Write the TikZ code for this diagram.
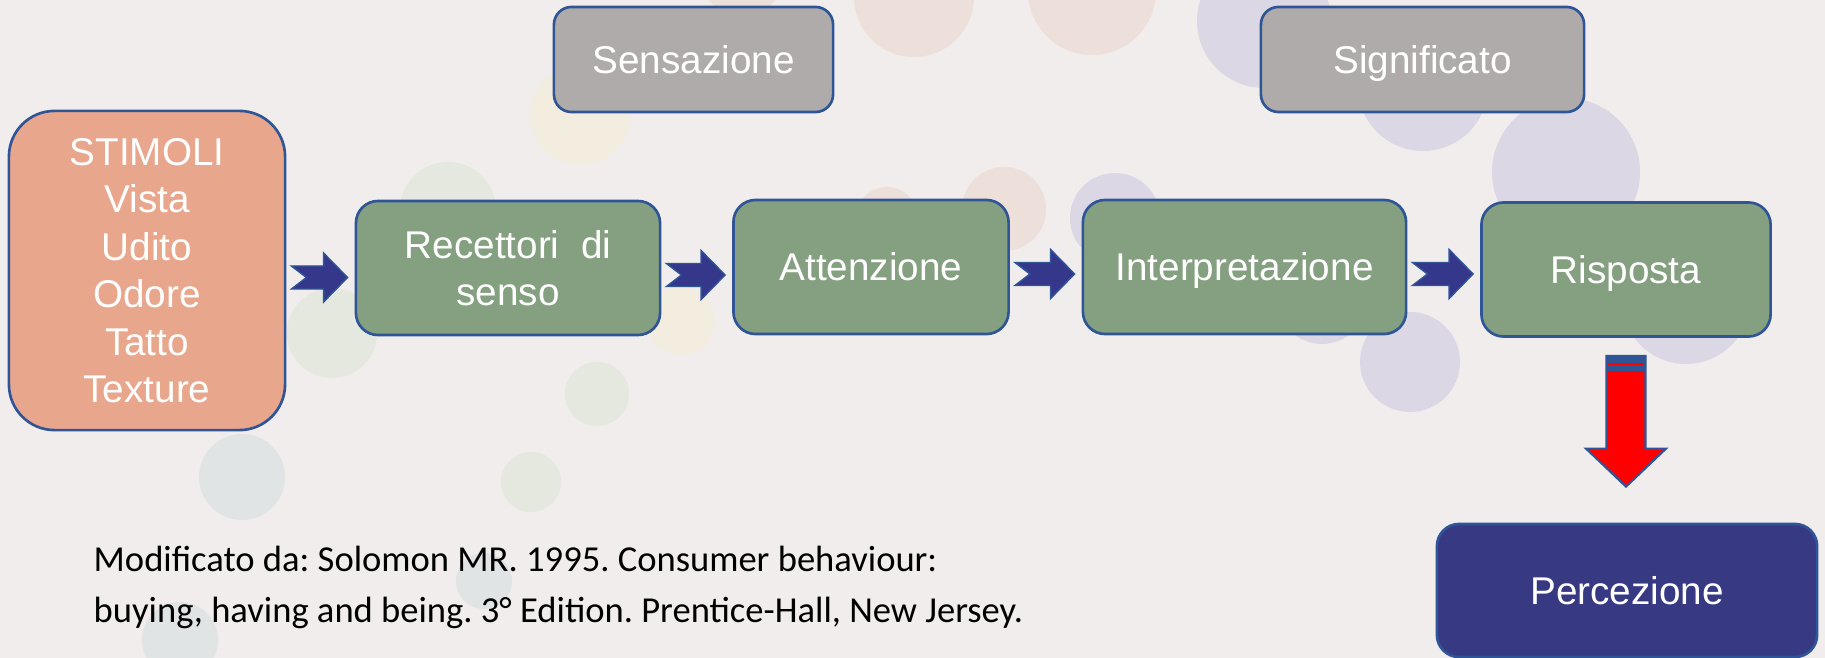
\documentclass[tikz,border=0pt]{standalone}
\usepackage{fontspec}
\setmainfont{Liberation Sans}
\newfontfamily\notefont{Carlito}
\usetikzlibrary{calc}
\frenchspacing

\definecolor{slidebg}{RGB}{240,237,236}
\definecolor{edgeblue}{RGB}{47,85,151}
\definecolor{stimsalmon}{RGB}{232,166,141}
\definecolor{stepgreen}{RGB}{132,160,128}
\definecolor{topgray}{RGB}{175,171,170}
\definecolor{percnavy}{RGB}{55,57,131}
\definecolor{chevblue}{RGB}{53,56,138}
\definecolor{dotpeach}{RGB}{237,223,217}
\definecolor{dotlilac}{RGB}{219,215,229}
\definecolor{dotyellow}{RGB}{242,237,223}
\definecolor{dotgreen}{RGB}{229,232,222}
\definecolor{dotgray}{RGB}{225,228,228}

\tikzset{
  box/.style={draw=edgeblue, line width=0.75pt, text=white, align=center,
    inner sep=0pt, font=\fontsize{11}{13.5}\selectfont},
  oneline/.style={text height=10pt, text depth=2.3pt},
  stimbox/.style={box, fill=stimsalmon, rounded corners=13pt},
  greenbox/.style={box, fill=stepgreen, rounded corners=6.3pt, minimum height=1.34cm},
  graybox/.style={box, oneline, fill=topgray, rounded corners=5pt, minimum height=1.05cm},
  percbox/.style={box, oneline, fill=percnavy, rounded corners=6.3pt},
  chevron/.style={fill=chevblue, draw=edgeblue, line width=0.4pt, line join=miter},
  redarrow/.style={fill=red, draw=edgeblue, line width=0.6pt, line join=miter},
}

% notched block arrow between two boxes
\newcommand{\flowarrow}[2]{%
  \draw[chevron] let \p1=($(#1.east)+(0.05cm,-0.07cm)$), \p2=($(#2.west)+(-0.07cm,0)$) in
    (\x1,\y1+0.115cm) -- (\x2-0.24cm,\y1+0.115cm) -- (\x2-0.24cm,\y1+0.245cm) -- (\x2,\y1)
    -- (\x2-0.24cm,\y1-0.245cm) -- (\x2-0.24cm,\y1-0.115cm) -- (\x1,\y1-0.115cm)
    -- (\x1+0.15cm,\y1) -- cycle;}

\begin{document}
\begin{tikzpicture}[x=0.01cm, y=-0.01cm]
  % slide background
  \fill[slidebg] (0,0) rectangle (1825,658);
  \useasboundingbox (0,0) rectangle (1825,658);

  % faint decorative dots
  \foreach \cx/\cy/\r/\col in {
      742/-30/45/dotpeach, 914/-3/60/dotpeach, 1092/-9/64/dotpeach,
      1264/21/67/dotlilac, 1423/86/65/dotlilac, 1566/172/74/dotlilac,
      1686/300/64/dotlilac, 1410/362/50/dotlilac, 1322/299/45/dotlilac,
      1004/209/42/dotpeach, 1115/218/45/dotlilac, 887/218/31/dotpeach,
      580/115/50/dotyellow, 448/210/48/dotgreen, 332/333/45/dotgreen,
      681/321/34/dotyellow, 597/394/32/dotgreen, 242/477/43/dotgray,
      531/482/30/dotgreen, 484/581/28/dotgray, 180/640/38/dotgray}
    \fill[\col] (\cx,\cy) circle (\r);

  % top labels
  \node[graybox, minimum width=2.79cm] (sens) at (693.5,59.5) {Sensazione};
  \node[graybox, minimum width=3.23cm] (sign) at (1422.5,59.5) {Significato};

  % stimuli
  \node[stimbox, minimum width=2.76cm, minimum height=3.19cm] (stim) at (147,270.5)
    {STIMOLI\\Vista\\Udito\\Odore\\Tatto\\Texture};

  % process chain
  \node[greenbox, minimum width=3.04cm] (rec) at (508,268) {Recettori\ \ di\\senso};
  \node[greenbox, oneline, minimum width=2.75cm] (att) at (871,267) {Attenzione};
  \node[greenbox, oneline, minimum width=3.23cm] (interp) at (1244.5,267) {Interpretazione};
  \node[greenbox, oneline, minimum width=2.89cm] (risp) at (1626,269.5) {Risposta};

  % outcome
  \node[percbox, minimum width=3.80cm, minimum height=1.33cm] (perc) at (1627,590.5) {Percezione};

  % block arrows
  \flowarrow{stim}{rec}
  \flowarrow{rec}{att}
  \flowarrow{att}{interp}
  \flowarrow{interp}{risp}

  % red down arrow
  \draw[redarrow] let \p1=($(risp.south)+(0,-0.18cm)$), \p2=($(perc.north)+(0,0.36cm)$) in
    (\x1-0.195cm,\y1) -- (\x1+0.195cm,\y1) -- (\x1+0.195cm,\y2+0.38cm) -- (\x1+0.40cm,\y2+0.38cm)
    -- (\x1,\y2) -- (\x1-0.40cm,\y2+0.38cm) -- (\x1-0.195cm,\y2+0.38cm) -- cycle;
  \fill[edgeblue] let \p1=($(risp.south)+(0,-0.18cm)$) in
    (\x1-0.195cm,\y1) rectangle (\x1+0.195cm,\y1-0.15cm);
  \draw[red, line width=0.6pt] let \p1=($(risp.south)+(0,-0.265cm)$) in
    (\x1-0.18cm,\y1) -- (\x1+0.18cm,\y1);

  % source note
  \node[anchor=west, align=left, inner sep=0pt, font=\notefont\fontsize{10.4}{14.5}\selectfont] (note) at (93,587)
    {Modificato da: Solomon MR. 1995. Consumer behaviour:\\buying, having and being. 3° Edition. Prentice-Hall,\ New Jersey.};
\end{tikzpicture}
\end{document}
